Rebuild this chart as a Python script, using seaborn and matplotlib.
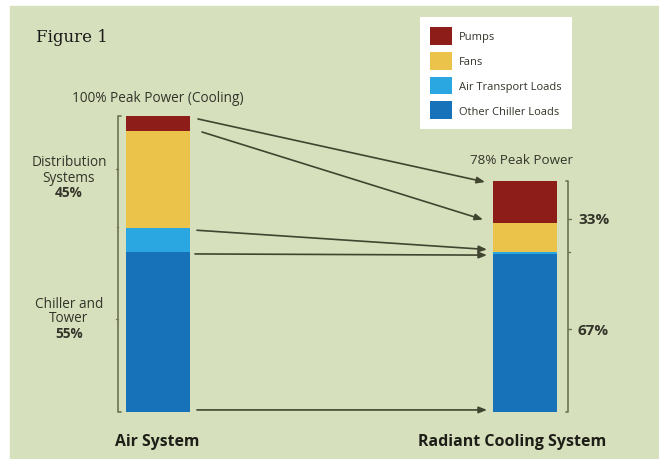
import matplotlib
matplotlib.use("Agg")
import matplotlib.pyplot as plt
import seaborn as sns
import pandas as pd
import numpy as np
from matplotlib.patches import Patch, Rectangle

# ---------------- data ----------------
systems = ["Air System", "Radiant Cooling System"]
components = ["Pumps", "Fans", "Air Transport Loads", "Other Chiller Loads"]
air_values = [5, 33, 8, 54]          # % of air-system peak power
radiant_values = [14, 10, 0.5, 53.5]  # % of air-system peak power
peak_labels = ["100% Peak Power (Cooling)", "78% Peak Power"]
left_groups = [["Distribution", "Systems"], ["Chiller and", "Tower"]]
left_group_pcts = ["45%", "55%"]
right_group_pcts = ["33%", "67%"]
colors = ["#8c1d18", "#ebc34b", "#2aa7e0", "#1872b9"]

BG = "#d7e0bc"
ARROW = "#3f4530"
BRACKET = "#6e7253"
TXT = "#33342a"

sns.set_theme(style="white")
plt.rcParams["font.family"] = ["Open Sans", "DejaVu Sans"]

fig = plt.figure(figsize=(6.59, 4.60), dpi=100, facecolor="white")
fig.patches.append(Rectangle((10 / 659, 0), 649 / 659, 453 / 460,
                             transform=fig.transFigure, color=BG, zorder=-10))
ax = fig.add_axes([0, 0, 1, 1])
ax.set_facecolor("none")
ax.patch.set_alpha(0)

# pixel <-> data mapping helpers (layout only)
CX0, SPAN = 158.0, 367.0
Y0, PPU = 413.0, 2.96
def X(px): return (px - CX0) / SPAN
def Y(py): return (Y0 - py) / PPU

bar_w = 64 / SPAN

# stacked bars via layered cumulative sums
rows = []
for s, vals in zip(systems, [air_values, radiant_values]):
    cum = np.cumsum(vals[::-1])[::-1]  # top-of-segment heights
    for c, v, top in zip(components, vals, cum):
        rows.append({"system": s, "component": c, "value": v, "top": top})
df = pd.DataFrame(rows)

for comp, col in zip(components, colors):
    sub = df[df.component == comp]
    sns.barplot(data=sub, x="system", y="top", order=systems, color=col,
                width=bar_w, saturation=1, linewidth=0, ax=ax, zorder=2)

ax.set_xlim(X(0), X(659))
ax.set_ylim(Y(460), Y(0))
ax.axis("off")

# boundaries for arrows
def bounds(vals):
    c = np.cumsum(vals[::-1])[::-1]
    return list(c) + [0.0]
lb = bounds(air_values)
rb = bounds(radiant_values)
pairs = [(lb[0] - 1.0, rb[0] - 0.3, X(198), X(485)),
         (lb[1] - 0.4, rb[1] + 1.0, X(202), X(483)),
         (lb[2] - 0.6, rb[2] + 0.9, X(197), X(487)),
         (lb[3] - 0.6, rb[3] - 0.5, X(195), X(487)),
         (lb[4] + 0.7, rb[4] + 0.7, X(197), X(487))]
for y1, y2, x1, x2 in pairs:
    ax.annotate("", xy=(x2, y2), xytext=(x1, y1),
                arrowprops=dict(arrowstyle="-|>,head_length=0.4,head_width=0.16",
                                color=ARROW, lw=1.2, shrinkA=0, shrinkB=0), zorder=3)

# brackets
def bracket(x, y_top, y_bot, side, marks, divs):
    d = 2.5 / SPAN * side
    ax.plot([x + d, x, x, x + d], [y_top, y_top, y_bot, y_bot], color=BRACKET, lw=1.2, zorder=3)
    for m in marks:
        ax.plot([x, x - d], [m, m], color=BRACKET, lw=1.0, zorder=3)
    for m in divs:
        ax.plot([x, x - d * 0.6], [m, m], color=BRACKET, lw=1.0, zorder=3)

bracket(X(118), lb[0], 0, +1, [Y(170), Y(320)], [Y(228)])
bracket(X(568), rb[0], 0, -1, [Y(220), Y(330)], [Y(253)])

# titles on bars
ax.text(X(158), Y(98), peak_labels[0], ha="center", va="center", fontsize=9.8, color=TXT)
ax.text(X(521), Y(160), peak_labels[1], ha="center", va="center", fontsize=9.6, color=TXT)

# left group labels
for lines, pct, py in zip(left_groups, left_group_pcts, [163, 304]):
    for i, line in enumerate(lines):
        ax.text(X(69), Y(py + 15 * i), line, ha="center", va="center", fontsize=9.8, color=TXT)
    ax.text(X(69), Y(py + 30), pct, ha="center", va="center", fontsize=9.8,
            fontweight="bold", color=TXT)
for pct, py in zip(right_group_pcts, [220, 331]):
    ax.text(X(578), Y(py), pct, ha="left", va="center", fontsize=11,
            fontweight="bold", color=TXT)

# system labels
ax.text(X(115), Y(442), systems[0], ha="left", va="center", fontsize=11.3,
        fontweight="bold", color="#1e1e18")
ax.text(X(606), Y(442), systems[1], ha="right", va="center", fontsize=11.5,
        fontweight="bold", color="#1e1e18")

# figure label
fig.text(36 / 659, 1 - 37 / 460, "Figure 1", ha="left", va="center", fontsize=12,
         family="DejaVu Serif", color="#1a1a1a")

# legend
handles = [Patch(facecolor=c, edgecolor="none", label=l) for c, l in zip(colors, components)]
leg = ax.legend(handles=handles, loc="upper left", bbox_to_anchor=(420 / 659, 1 - 18 / 460),
                bbox_transform=fig.transFigure, borderaxespad=0, frameon=True, fancybox=False,
                framealpha=1, fontsize=8, handlelength=2.0, handleheight=2.1,
                labelspacing=0.62, handletextpad=0.6, borderpad=0.9)
leg.get_frame().set_facecolor("white")
leg.get_frame().set_edgecolor("none")
for t in leg.get_texts():
    t.set_color(TXT)

fig.savefig("out.png", dpi=100, facecolor="white")
